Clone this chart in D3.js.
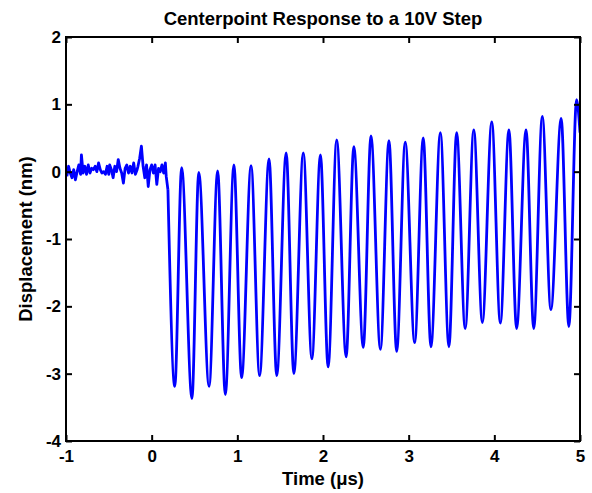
<!DOCTYPE html>
<html>
<head>
<meta charset="utf-8">
<script src="https://cdn.jsdelivr.net/npm/d3@7"></script>
<style>
  body { margin: 0; background: #fff; }
  svg text { font-family: "Liberation Sans", Arial, sans-serif; font-weight: bold; fill: #000; }
</style>
</head>
<body>
<svg id="chart" width="592" height="493"></svg>
<script>
// Centerpoint response to a 10V step - displacement trace.

const xTicks = [-1, 0, 1, 2, 3, 4, 5];
const yTicks = [-4, -3, -2, -1, 0, 1, 2];

// pre-step noise, roughly every 0.02 us
const noiseTimes = [
  -0.99, -0.97, -0.95, -0.93, -0.91, -0.89, -0.87, -0.85, -0.83, -0.82,
  -0.80, -0.78, -0.76, -0.74, -0.72, -0.70, -0.68, -0.66, -0.64, -0.62,
  -0.60, -0.58, -0.56, -0.54, -0.52, -0.50, -0.49, -0.47, -0.45, -0.43,
  -0.41, -0.39, -0.37, -0.35, -0.33, -0.31, -0.29, -0.27, -0.25, -0.23,
  -0.21, -0.19, -0.17, -0.16, -0.14, -0.12, -0.10, -0.08, -0.06, -0.04,
  -0.02, 0.00, 0.02, 0.04, 0.06, 0.08, 0.10, 0.12, 0.14, 0.16,
  0.17, 0.19
];
const noiseValues = [
  -0.07, 0.08, -0.02, -0.09, 0.03, -0.12, 0.00, 0.10, -0.04, 0.25,
  -0.02, 0.08, -0.04, 0.10, -0.02, 0.05, 0.03, 0.08, 0.00, 0.13,
  0.03, -0.02, 0.00, -0.04, 0.08, -0.04, 0.10, 0.03, -0.09, 0.08,
  0.00, 0.18, 0.05, -0.02, -0.17, 0.05, 0.10, -0.02, 0.08, -0.02,
  0.13, -0.04, 0.03, 0.08, 0.20, 0.38, 0.08, -0.09, 0.10, -0.22,
  0.03, 0.10, -0.02, 0.10, -0.19, 0.05, 0.00, 0.10, -0.02, 0.13,
  -0.07, -0.27
];

// ringing after the step: successive troughs and peaks
const ringTimes = [
  0.27, 0.35, 0.47, 0.55, 0.67, 0.77, 0.86, 0.96, 1.05, 1.16,
  1.26, 1.37, 1.46, 1.57, 1.66, 1.77, 1.87, 1.97, 2.06, 2.16,
  2.27, 2.36, 2.47, 2.56, 2.67, 2.77, 2.86, 2.96, 3.07, 3.17,
  3.26, 3.37, 3.47, 3.56, 3.66, 3.76, 3.86, 3.97, 4.07, 4.17,
  4.26, 4.37, 4.46, 4.56, 4.66, 4.78, 4.87, 4.96, 5.00
];
const ringValues = [
  -3.19, 0.06, -3.37, -0.01, -3.19, 0.01, -3.31, 0.10, -3.06, 0.09,
  -3.03, 0.19, -3.03, 0.28, -3.00, 0.28, -2.78, 0.25, -2.90, 0.47,
  -2.75, 0.37, -2.61, 0.53, -2.64, 0.46, -2.67, 0.44, -2.54, 0.50,
  -2.60, 0.58, -2.60, 0.58, -2.33, 0.62, -2.24, 0.74, -2.25, 0.62,
  -2.33, 0.62, -2.33, 0.82, -2.05, 0.79, -2.30, 1.07, 0.58
];

const width = 592, height = 493;
const margin = { top: 37, right: 12, bottom: 52, left: 66 };
const innerW = width - margin.left - margin.right;
const innerH = height - margin.top - margin.bottom;

const svg = d3.select('#chart');
const g = svg.append('g').attr('transform', `translate(${margin.left},${margin.top})`);

const x = d3.scaleLinear().domain([-1, 5]).range([0, innerW]);
const y = d3.scaleLinear().domain([-4, 2]).range([innerH, 0]);

const noise = noiseTimes.map((t, i) => ({ t, v: noiseValues[i] }));
const ring = ringTimes.map((t, i) => ({ t, v: ringValues[i] }));

g.append('defs').append('clipPath').attr('id', 'plot-clip')
  .append('rect').attr('width', innerW).attr('height', innerH);

const lineLinear = d3.line().x(d => x(d.t)).y(d => y(d.v));
const lineSmooth = d3.line().x(d => x(d.t)).y(d => y(d.v)).curve(d3.curveMonotoneX);

const trace = g.append('g').attr('clip-path', 'url(#plot-clip)');

trace.append('path')
  .attr('d', lineLinear(noise))
  .attr('fill', 'none')
  .attr('stroke', '#0000ff')
  .attr('stroke-width', 2.8)
  .attr('stroke-linejoin', 'round');

trace.append('path')
  .attr('d', lineSmooth([noise[noise.length - 1]].concat(ring)))
  .attr('fill', 'none')
  .attr('stroke', '#0000ff')
  .attr('stroke-width', 2.8)
  .attr('stroke-linejoin', 'round');

// axes: ticks point inward on all four sides, labels use a plain hyphen
const tickLen = 6;
const fmt = d => String(d);
const axisBottom = g.append('g').attr('transform', `translate(0,${innerH})`)
  .call(d3.axisBottom(x).tickValues(xTicks).tickSize(-tickLen).tickPadding(9).tickFormat(fmt));
const axisTop = g.append('g')
  .call(d3.axisTop(x).tickValues(xTicks).tickSize(-tickLen).tickFormat(''));
const axisLeft = g.append('g')
  .call(d3.axisLeft(y).tickValues(yTicks).tickSize(-tickLen).tickPadding(5).tickFormat(fmt));
const axisRight = g.append('g').attr('transform', `translate(${innerW},0)`)
  .call(d3.axisRight(y).tickValues(yTicks).tickSize(-tickLen).tickFormat(''));

[axisBottom, axisTop, axisLeft, axisRight].forEach(a => {
  a.select('.domain').remove();
  a.selectAll('line').attr('stroke', '#000').attr('stroke-width', 2);
  a.selectAll('text').attr('font-size', 17).attr('font-family', '"Liberation Sans", Arial, sans-serif').attr('font-weight', 'bold');
});

g.append('rect')
  .attr('width', innerW)
  .attr('height', innerH)
  .attr('fill', 'none')
  .attr('stroke', '#000')
  .attr('stroke-width', 2);

svg.append('text')
  .attr('x', margin.left + innerW / 2)
  .attr('y', 25)
  .attr('text-anchor', 'middle')
  .attr('font-size', 18.5)
  .text('Centerpoint Response to a 10V Step');

svg.append('text')
  .attr('x', margin.left + innerW / 2)
  .attr('y', 485)
  .attr('text-anchor', 'middle')
  .attr('font-size', 18.5)
  .text('Time (μs)');

svg.append('text')
  .attr('transform', `translate(32,${margin.top + innerH / 2}) rotate(-90)`)
  .attr('text-anchor', 'middle')
  .attr('font-size', 18.5)
  .text('Displacement (nm)');
</script>
</body>
</html>
